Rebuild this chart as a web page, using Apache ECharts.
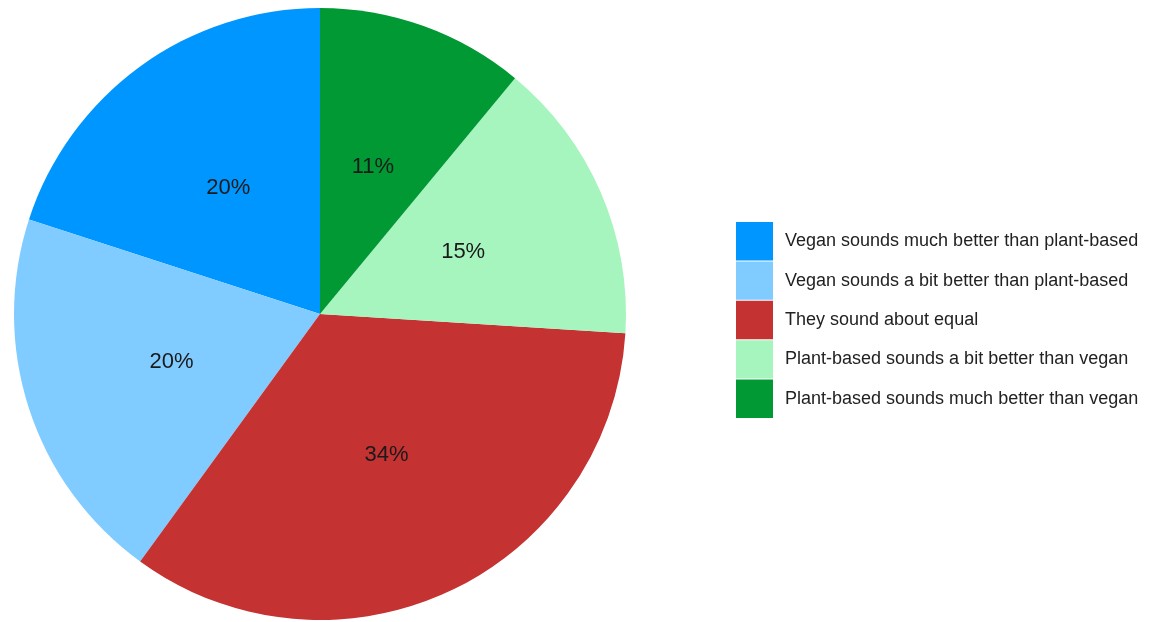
<!DOCTYPE html>
<html>
<head>
<meta charset="utf-8">
<script src="https://cdn.jsdelivr.net/npm/echarts@6/dist/echarts.min.js"></script>
<style>
  html, body { margin: 0; padding: 0; background: #ffffff; }
  #chart { width: 1156px; height: 622px; }
</style>
</head>
<body>
<div id="chart"></div>
<script>
// Survey responses: "vegan" vs "plant-based" wording
const categories = [
  'Vegan sounds much better than plant-based',
  'Vegan sounds a bit better than plant-based',
  'They sound about equal',
  'Plant-based sounds a bit better than vegan',
  'Plant-based sounds much better than vegan'
];
const shares = [20, 20, 34, 15, 11];
const colors = ['#0096ff', '#80cbff', '#c43232', '#a6f5bf', '#009933'];

const chart = echarts.init(document.getElementById('chart'), null, { renderer: 'canvas' });

chart.setOption({
  animation: false,
  color: colors,
  legend: {
    orient: 'vertical',
    left: 736,
    top: 222,
    padding: 0,
    itemWidth: 37,
    itemHeight: 38.4,
    itemGap: 1,
    icon: 'rect',
    data: categories,
    selectedMode: false,
    textStyle: {
      fontFamily: 'Liberation Sans, Arial, sans-serif',
      fontSize: 18,
      color: '#222222',
      padding: [0, 0, 0, 7]
    }
  },
  series: [{
    type: 'pie',
    center: [320, 314],
    radius: [0, 306],
    startAngle: 90,
    clockwise: false,
    avoidLabelOverlap: false,
    label: {
      show: true,
      position: 'inner',
      formatter: '{c}%',
      fontFamily: 'Liberation Sans, Arial, sans-serif',
      fontSize: 22,
      color: '#1a1a1a'
    },
    labelLine: { show: false },
    emphasis: { disabled: true },
    itemStyle: { borderWidth: 0 },
    data: categories.map((name, i) => ({ name, value: shares[i] }))
  }]
});
</script>
</body>
</html>
